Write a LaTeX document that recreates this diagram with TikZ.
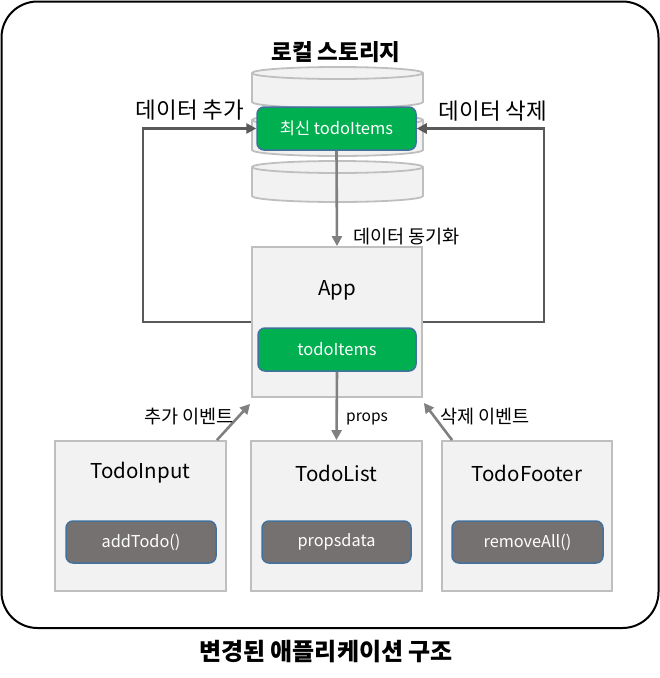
\documentclass[tikz,border=0pt]{standalone}
\usepackage{fontspec}
\setmainfont{Noto Sans CJK KR}
\usetikzlibrary{arrows.meta,calc}
\definecolor{boxfill}{HTML}{F2F2F2}
\definecolor{boxline}{HTML}{BFBFBF}
\definecolor{greenfill}{HTML}{00B050}
\definecolor{blueline}{HTML}{41719C}
\definecolor{grayfill}{HTML}{767171}
\definecolor{arrgray}{HTML}{808080}
\definecolor{loopgray}{HTML}{595959}
\tikzset{
  comp/.style={draw=boxline, fill=boxfill, line width=1.8pt, inner sep=0pt},
  greenbox/.style={draw=blueline, fill=greenfill, line width=1.5pt, rounded corners=7pt, inner sep=0pt, text=white, font=\fontsize{16.5}{19}\selectfont},
  graybox/.style={draw=blueline, fill=grayfill, line width=1.5pt, rounded corners=7pt, inner sep=0pt, text=white, font=\fontsize{16.3}{19}\selectfont},
  ctitle/.style={font=\fontsize{20.5}{24}\selectfont},
  disk/.style={draw=boxline, fill=boxfill, line width=1.8pt},
  flow/.style={draw=arrgray, line width=2.6pt, -{Triangle[length=10pt,width=10pt]}},
  loopflow/.style={draw=loopgray, line width=2.6pt, -{Triangle[length=10pt,width=10pt]}},
  biglabel/.style={font=\fontsize{22.5}{26}\selectfont},
  smalllabel/.style={font=\fontsize{18.6}{22}\selectfont},
  latinlabel/.style={font=\fontsize{15.5}{19}\selectfont},
  heading/.style={font=\bfseries\fontsize{22.5}{26}\selectfont},
}
\begin{document}
\begin{tikzpicture}[x=1pt,y=-1pt]
\useasboundingbox (0,0) rectangle (660,678);
% outer frame
\draw[line width=2pt, rounded corners=36pt] (1.5,1.5) rectangle (658.5,628);
\node[heading] (title) at (336,52) {로컬 스토리지};
\node[heading, font=\bfseries\fontsize{24}{28}\selectfont] (bottomtitle) at (326,652) {변경된 애플리케이션 구조};
% storage disks
\foreach \yt/\yb in {167/196, 120/150, 73/102}{
  \draw[disk] (252,\yt) -- (252,\yb) arc[start angle=180,end angle=0,x radius=85.5,y radius=6]
     -- (423,\yt) arc[start angle=0,end angle=-180,x radius=85.5,y radius=6] -- cycle;
  \draw[draw=boxline, line width=1.8pt] (252,\yt) arc[start angle=180,end angle=0,x radius=85.5,y radius=6];
}
\node[greenbox, minimum width=159pt, minimum height=43pt] (latest) at (336.5,128.5) {최신 todoItems};
% App
\node[comp, minimum width=170pt, minimum height=150pt] (app) at (337,322) {};
\node[ctitle] (apptitle) at (337,290) {App};
\node[greenbox, minimum width=158pt, minimum height=43pt] (items) at (337,349.5) {todoItems};
% bottom components
\node[comp, minimum width=171pt, minimum height=150pt] (input) at (140.5,516) {};
\node[comp, minimum width=171pt, minimum height=150pt] (list) at (336.5,516) {};
\node[comp, minimum width=170pt, minimum height=150pt] (footer) at (527,516) {};
\node[ctitle] (inputtitle) at (140.5,473) {TodoInput};
\node[ctitle] (listtitle) at (336.5,473) {TodoList};
\node[ctitle] (footertitle) at (527,473) {TodoFooter};
\node[graybox, minimum width=150pt, minimum height=42pt] (addtodo) at (141,542) {addTodo()};
\node[graybox, minimum width=149pt, minimum height=42pt] (propsdata) at (336.5,542) {propsdata};
\node[graybox, minimum width=151pt, minimum height=42pt] (removeall) at (527.5,542) {removeAll()};
% connectors
\draw[flow] (latest.south) -- (app.north);
\draw[flow] (items.south) -- (list.north);
\coordinate (inputstart) at ($(input.north east)+(-10,0)$);
\coordinate (inputend) at ($(app.south west)+(-1,6)$);
\draw[flow] (inputstart) -- (inputend);
\coordinate (footerstart) at ($(footer.north west)+(11,0)$);
\coordinate (footerend) at ($(app.south east)+(1,5)$);
\draw[flow] (footerstart) -- (footerend);
\draw[loopflow] (app.west) -- ++(-108,0) |- (latest.west);
\draw[loopflow] (app.east) -- ++(121,0) |- (latest.east);
% labels
\node[biglabel] (addlabel) at (190,110) {데이터 추가};
\node[biglabel] (dellabel) at (493,111) {데이터 삭제};
\node[smalllabel, anchor=west, inner sep=0pt] (synclabel) at (353,237) {데이터 동기화};
\node[smalllabel] (addevent) at (189,417) {추가 이벤트};
\node[latinlabel, anchor=west, inner sep=0pt] (propslabel) at (346,419) {props};
\node[smalllabel, anchor=west, inner sep=0pt] (delevent) at (440,417) {삭제 이벤트};
\end{tikzpicture}
\end{document}
